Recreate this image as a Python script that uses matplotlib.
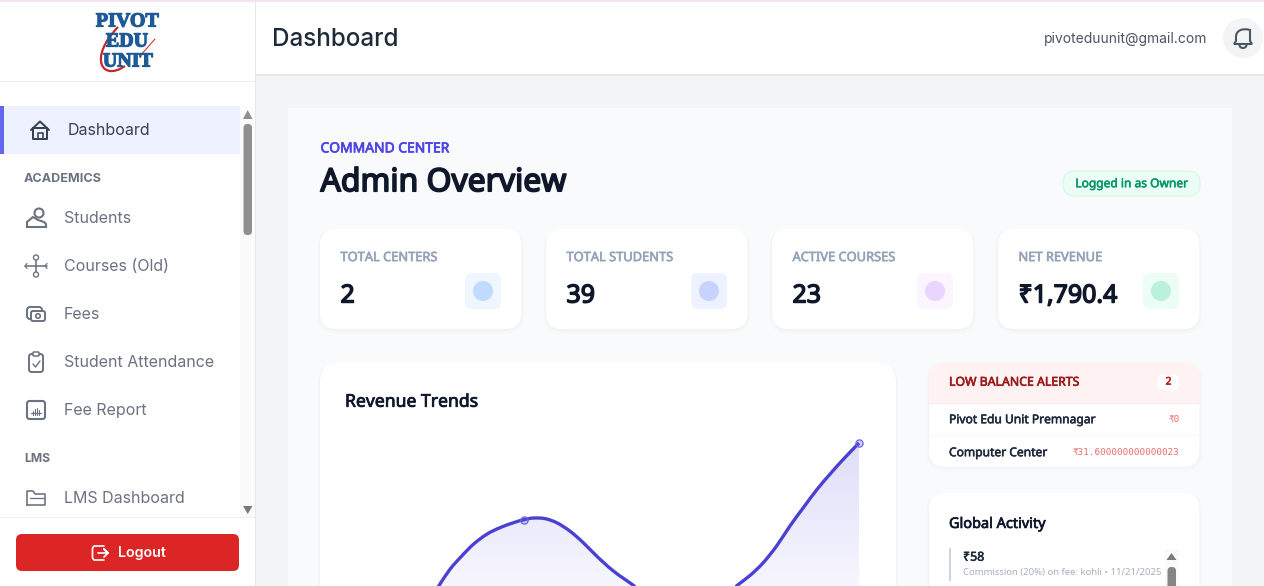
import numpy as np
import matplotlib
matplotlib.use("Agg")
import matplotlib.pyplot as plt
import matplotlib.patheffects as pe
from matplotlib.patches import FancyBboxPatch, Circle, Rectangle, Arc, Polygon, PathPatch
from matplotlib.path import Path

# ---------- data ----------
month_pos = [0.735, 0.747, 0.779, 0.814, 0.849, 0.889, 0.928, 0.968, 1.0, 1.028, 1.063, 1.098, 1.137,
             1.177, 1.217, 1.267, 1.326, 1.345, 1.48, 1.62, 1.637, 1.675, 1.714, 1.754, 1.794,
             1.834, 1.875, 1.913, 1.953, 2.0]
revenue = [250, 278, 359, 426, 486, 537, 570, 595, 611, 619, 616, 595, 553,
           494, 426, 350, 278, 250, 130, 250, 278, 328, 392, 477, 579,
           672, 765, 841, 917, 1000]
point_months = [1.0, 2.0]
point_values = [611, 1000]

stat_labels = ["TOTAL CENTERS", "TOTAL STUDENTS", "ACTIVE COURSES", "NET REVENUE"]
stat_values = ["2", "39", "23", "₹1,790.4"]
nav_labels = ["Students", "Courses (Old)", "Fees", "Student Attendance", "Fee Report"]
alert_names = ["Pivot Edu Unit Premnagar", "Computer Center"]
alert_values = ["₹0", "₹31.600000000000023"]

# ---------- page ----------
W, H = 1264, 586
fig = plt.figure(figsize=(W / 100, H / 100), dpi=100, facecolor="#f3f4f6")
ui = fig.add_axes([0, 0, 1, 1], zorder=1)
ui.set_xlim(0, W); ui.set_ylim(H, 0); ui.axis("off")

NOTO = ["Noto Sans", "DejaVu Sans"]
INTER = ["Inter", "DejaVu Sans"]
MONO = ["DejaVu Sans Mono"]
SERIF = ["Liberation Serif"]


def px(size):
    return size * 0.72


def T(x, y, s, size, color, family=NOTO, weight="normal", ha="left", z=6, stroke=0.0):
    t = ui.text(x, y + size * 0.1, s, fontsize=px(size), color=color, family=family, weight=weight,
                ha=ha, va="center", zorder=z)
    if stroke:
        t.set_path_effects([pe.withStroke(linewidth=stroke, foreground=color)])
    return t


def rbox(x0, y0, x1, y1, r, fc, ec="none", lw=0, z=2):
    p = FancyBboxPatch((x0 + r, y0 + r), x1 - x0 - 2 * r, y1 - y0 - 2 * r,
                       boxstyle=f"round,pad={r},rounding_size={r}", fc=fc, ec=ec, lw=lw, zorder=z)
    ui.add_patch(p)
    return p


def card(x0, y0, x1, y1, r=16, z=2):
    for i, a in zip((5, 4, 3, 2, 1), (0.004, 0.005, 0.006, 0.008, 0.010)):
        p = rbox(x0 - i * 0.6, y0 - i * 0.2 + 1, x1 + i * 0.6, y1 + i, r + i * 0.5, "#0f172a", z=z)
        p.set_alpha(a)
    return rbox(x0, y0, x1, y1, r, "white", z=z + 0.1)


def rect(x0, y0, x1, y1, c, z=1):
    ui.add_patch(Rectangle((x0, y0), x1 - x0, y1 - y0, fc=c, ec="none", zorder=z))


def L(xs, ys, c="#6b7280", lw=1.5, z=6):
    ui.plot(xs, ys, color=c, lw=lw * 0.72, solid_capstyle="round", solid_joinstyle="round", zorder=z)


# background frames
rect(0, 0, W, 2, "#f3e3f3", 5)
rect(288, 108, 1232, H, "#f9fafb")
rect(0, 2, 255, H, "white")
rect(255, 2, 256, H, "#e5e7eb")
rect(256, 2, W, 74, "white")
rect(256, 74, W, 76, "#e5e7eb")
rect(0, 81, 255, 82, "#eceef1")
rect(0, 517, 255, 518, "#eceef1")

# logo
T(127.5, 19.5, "PIVOT", 20, "#1f5a96", SERIF, "bold", "center", 7, 0.9)
T(127, 39.5, "EDU", 20, "#1f5a96", SERIF, "bold", "center", 7, 0.9)
T(128, 59.5, "UNIT", 20, "#1f5a96", SERIF, "bold", "center", 7, 0.9)
ui.add_patch(PathPatch(Path([(118, 27), (88, 58), (102, 82), (125, 66)],
                            [Path.MOVETO, Path.CURVE4, Path.CURVE4, Path.CURVE4]),
                       fc="none", ec="#c7282d", lw=1.6, zorder=6))
L([140, 155], [56, 39], "#c7282d", 1.0)

# header
T(272, 37.5, "Dashboard", 24.2, "#1f2937", INTER, "medium")
T(1207, 37.5, "pivoteduunit@gmail.com", 13.85, "#4b5563", INTER, ha="right")
ui.add_patch(Circle((1243, 38), 20, fc="#f3f4f6", ec="none", zorder=3))
bell = Path([(1234, 44), (1236, 41), (1236, 37), (1236, 30), (1243, 28), (1250, 30), (1250, 37), (1250, 41), (1252, 44), (1234, 44)],
            [Path.MOVETO, Path.LINETO, Path.LINETO, Path.CURVE4, Path.CURVE4, Path.CURVE4, Path.LINETO, Path.LINETO, Path.LINETO, Path.CLOSEPOLY])
ui.add_patch(PathPatch(bell, fc="none", ec="#4b5563", lw=1.5, zorder=6))
ui.add_patch(Arc((1243, 45), 7, 6, theta1=0, theta2=180, ec="#4b5563", lw=1.5, zorder=6))

# sidebar active row
rect(0, 106, 240, 154, "#eef2ff", 2)
rect(0, 106, 4, 154, "#6366f1", 3)
c = "#374151"
L([31, 40, 49], [130, 121.5, 130], c, 2)
L([33, 33, 47, 47, 33], [128, 139, 139, 128, 128], c, 2)
L([37.5, 37.5, 42.5, 42.5], [139, 133, 133, 139], c, 1.6)
T(68, 129.3, "Dashboard", 16, "#374151", INTER)
T(24, 177.5, "ACADEMICS", 12.6, "#6b7280", INTER, "bold")
T(24, 457.5, "LMS", 12.2, "#6b7280", INTER, "bold")
nav_y = [218, 266, 314, 362, 410]
for lab, y in zip(nav_labels, nav_y):
    T(64, y - 1, lab, 16, "#6b7280", INTER)
T(64, 497, "LMS Dashboard", 16, "#6b7280", INTER)

# sidebar icons
c = "#6b7280"
ui.add_patch(Circle((39, 213), 4.5, fc="none", ec=c, lw=1.5, zorder=6))
ui.add_patch(PathPatch(Path([(27, 227), (27, 222), (33, 217), (38, 220), (44, 222), (46, 224), (46, 227), (27, 227)],
                            [Path.MOVETO] + [Path.LINETO] * 6 + [Path.CLOSEPOLY]), fc="none", ec=c, lw=1.5, zorder=6))
L([25, 47], [266, 266], c, 1.6); L([36, 36], [259, 273], c, 1.6)
L([27, 25, 27], [263.5, 266, 268.5], c, 1.2); L([47, 45, 47], [263.5, 266, 268.5], c, 1.2)
ui.add_patch(Circle((36, 257.5), 2.5, fc="white", ec=c, lw=1, zorder=6.5))
ui.add_patch(Circle((36, 274.5), 2.5, fc="white", ec=c, lw=1, zorder=6.5))
rbox(27, 307, 42, 319, 3, "none", c, 1.4, 6)
rbox(31, 311, 45, 321, 2, "white", c, 1.4, 6.2)
ui.add_patch(Circle((38, 316), 2.2, fc="none", ec=c, lw=1.2, zorder=6.5))
rbox(29, 354, 43, 372, 2.5, "none", c, 1.4, 6)
rbox(33, 352, 39, 356, 1, "white", c, 1.1, 6.2)
L([33, 35.5, 40], [364, 367, 361], c, 1.4)
rbox(27, 401, 45, 419, 2.5, "none", c, 1.5, 6)
L([31, 41], [413, 413], c, 1.2)
for xx, top_y in zip((33, 35, 37, 39), (411, 409, 408, 410)):
    L([xx, xx], [415, top_y], c, 1.1)
L([27, 27, 33, 35, 45, 45, 27], [505, 491, 491, 494, 494, 505, 505], c, 1.6)
L([30, 44], [498, 498], c, 1.3)

# sidebar scrollbar
rect(240, 106, 255, 517, "#fbfbfc", 1.5)
ui.add_patch(Polygon([(243, 119), (252.5, 119), (247.7, 110)], fc="#8f8f8f", ec="none", zorder=4))
ui.add_patch(Polygon([(243, 506), (252.5, 506), (247.7, 514)], fc="#7a7a7a", ec="none", zorder=4))
rbox(243.5, 124, 252, 235, 4, "#8f8f8f", z=4)

# logout
rbox(16, 534, 239, 571, 6, "#dc2626", z=3)
T(118, 551.8, "Logout", 14.2, "white", INTER, "semibold")
L([104, 94, 92.5, 92.5, 94, 104], [546, 546, 548, 558, 560, 560], "white", 1.7)
L([98, 108, 104, 108, 104], [553, 553, 549, 553, 557], "white", 1.7)

# page heading
T(320.5, 147.5, "COMMAND CENTER", 13.85, "#4f46e5", NOTO, "bold", stroke=0.55)
T(320.5, 179.5, "Admin Overview", 31.9, "#0f172a", NOTO, "black", stroke=1.25)
rbox(1063, 171, 1200, 196, 12, "#ecfdf5", "#d5f8e6", 0.8, 3)
T(1131.5, 182.5, "Logged in as Owner", 12, "#059669", NOTO, "bold", "center", stroke=0.4)

# stat cards
card_x = [320, 546, 772, 998]
tile_colors = ["#eff6ff", "#eef2ff", "#faf5ff", "#ecfdf5"]
dot_colors = ["#bfdbfe", "#c7d2fe", "#e9d5ff", "#bbf0da"]
for x, lab, val, tc, dc in zip(card_x, stat_labels, stat_values, tile_colors, dot_colors):
    card(x, 229, x + 201.5, 329)
    T(x + 20.5, 256.3, lab, 12.85, "#94a3b8", NOTO, "bold", stroke=0.45)
    T(x + 20.5, 293.5, val, 24.9, "#0f172a", NOTO, "black", stroke=1.05)
    rbox(x + 145, 273, x + 181, 309, 7, tc, z=3)
    ui.add_patch(Circle((x + 163, 291), 10, fc=dc, ec="none", zorder=4))

# revenue card
card(320, 362, 896, 640, 20)
T(345, 400, "Revenue Trends", 17.6, "#0f172a", NOTO, "bold", stroke=0.55)

# alerts
card(929, 362, 1199.5, 467, 16)
top = FancyBboxPatch((945, 378), 238.5, 40, boxstyle="round,pad=16,rounding_size=16", fc="#fef2f2", ec="none", zorder=2.5)
ui.add_patch(top)
top.set_clip_path(Rectangle((929, 362), 271, 41, transform=ui.transData))
T(949, 381, "LOW BALANCE ALERTS", 12.3, "#991b1b", NOTO, "bold", stroke=0.45)
rbox(1157.5, 374, 1179.5, 390.5, 8, "white", z=3)
T(1168.5, 381, "2", 10.5, "#b91c1c", NOTO, "bold", "center", stroke=0.4)
rect(929, 403, 1199.5, 404, "#f5eeee", 3)
rect(929, 435, 1199.5, 436, "#f6f7f8", 3)
for name, val, y in zip(alert_names, alert_values, (418.5, 451.5)):
    T(949, y, name, 12.05, "#1e293b", NOTO, "semibold", stroke=0.4)
    T(1179.5, y, val, 9.25, "#ef6a6a", MONO, ha="right")

# global activity
card(929, 493, 1199.5, 640, 16)
T(949, 523, "Global Activity", 14.5, "#0f172a", NOTO, "bold", stroke=0.5)
rect(949, 548, 951, 581, "#cbd5e1", 3)
T(963, 556, "₹58", 12.4, "#1e293b", NOTO, "semibold", stroke=0.4)
T(963, 572, "Commission (20%) on fee: kohli • 11/21/2025", 9.5, "#a6b0bf", NOTO)
rect(1165, 549, 1179, 586, "#fafafa", 2.6)
ui.add_patch(Polygon([(1166.5, 560), (1176.5, 560), (1171.5, 553)], fc="#7a7a7a", ec="none", zorder=4))
rbox(1167.5, 567, 1176, 600, 4, "#858585", z=4)

# ---------- chart ----------
# axes spans x pixels 345..875 and y pixels 420..586
ax = fig.add_axes([345 / W, 0, 530 / W, 166 / H], zorder=3)
x_lo, x_hi, y_lo, y_hi = 0.4657, 2.0478, 274.1, 1116.8
ax.set_xlim(x_lo, x_hi)
ax.set_ylim(y_lo, y_hi)
ax.axis("off")
ax.patch.set_alpha(0)

vals = np.asarray(revenue, float)
months = np.asarray(month_pos, float)

# smooth line through the read values: a Bezier path, as the chart library's line tension does
pts = np.column_stack([months, vals])
prev_p = np.vstack([pts[0], pts[:-1]])
next_p = np.vstack([pts[1:], pts[-1]])
tang = (next_p - prev_p) / 6
verts = [pts[0]]
codes = [Path.MOVETO]
for i in range(len(pts) - 1):
    verts += [pts[i] + tang[i], pts[i + 1] - tang[i + 1], pts[i + 1]]
    codes += [Path.CURVE4] * 3
curve = Path(np.array(verts), codes)
area = Path(np.vstack([verts, [months[-1], 0], [months[0], 0], pts[0]]),
            codes + [Path.LINETO, Path.LINETO, Path.CLOSEPOLY])

grad = np.zeros((256, 2, 4))
grad[..., 0], grad[..., 1], grad[..., 2] = 0x4f / 255, 0x46 / 255, 0xe5 / 255
level = np.linspace(y_hi, y_lo, 256)
grad[..., 3] = np.clip(level / 1000, 0, 1)[:, None] * 0.18
im = ax.imshow(grad, extent=(x_lo, x_hi, y_lo, y_hi), origin="upper", aspect="auto", zorder=1)
im.set_clip_path(PathPatch(area, transform=ax.transData))
ax.set_xlim(x_lo, x_hi)
ax.set_ylim(y_lo, y_hi)
ax.add_patch(PathPatch(curve, fc="none", ec="#4a41d0", lw=2.4, capstyle="butt", joinstyle="round", zorder=3))
ax.plot(point_months, point_values, ls="none", marker="o", ms=5.2, mfc=(0.31, 0.27, 0.9, 0.25),
        mec="#6a63ea", mew=0.9, zorder=4, clip_on=False)

fig.savefig("out.png", dpi=100, facecolor=fig.get_facecolor())
